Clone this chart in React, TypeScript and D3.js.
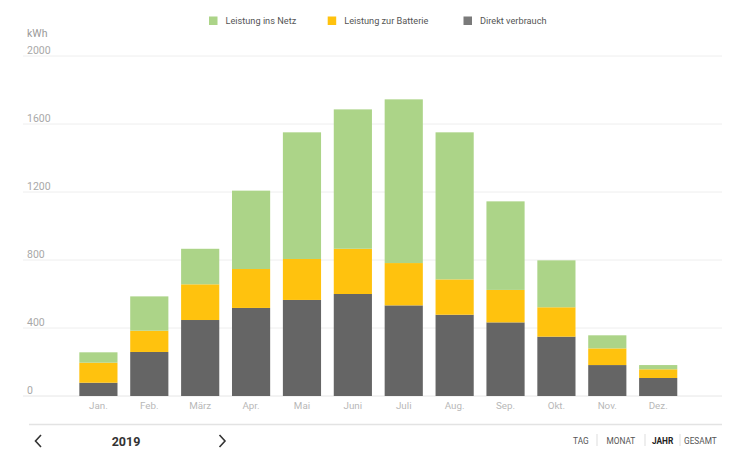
import React from "react";
import * as d3 from "d3";

const months = ["Jan.", "Feb.", "März", "Apr.", "Mai", "Juni", "Juli", "Aug.", "Sep.", "Okt.", "Nov.", "Dez."];
const direktVerbrauch = [78, 259, 447, 518, 565, 600, 533, 478, 433, 349, 182, 106];
const leistungBatterie = [118, 125, 210, 229, 241, 266, 249, 208, 191, 173, 98, 51];
const leistungNetz = [61, 202, 209, 461, 745, 820, 963, 865, 521, 276, 77, 25];
const yTicks = [0, 400, 800, 1200, 1600, 2000];
const seriesNames = ["Leistung ins Netz", "Leistung zur Batterie", "Direkt verbrauch"];
const periodTabs = ["TAG", "MONAT", "JAHR", "GESAMT"];
const yearLabel = "2019";

const COLORS: Record<string, string> = {
  direkt: "#656565",
  batterie: "#ffc20e",
  netz: "#acd488",
};

export default function App() {
  const W = 730, H = 450;
  const font = "Roboto, 'Noto Sans', sans-serif";

  const x = d3.scaleBand<string>().domain(months).range([66.6, 690]).paddingInner(0.25).paddingOuter(0.25);
  const y = d3.scaleLinear().domain([0, 2000]).range([396, 56]);

  const rows = months.map((m, i) => ({
    month: m,
    direkt: direktVerbrauch[i],
    batterie: leistungBatterie[i],
    netz: leistungNetz[i],
  }));
  const keys = ["direkt", "batterie", "netz"];
  const stacked = d3.stack<any>().keys(keys)(rows);

  const legendItems = [
    { name: seriesNames[0], color: COLORS.netz, x: 209 },
    { name: seriesNames[1], color: COLORS.batterie, x: 327.7 },
    { name: seriesNames[2], color: "#7a7a7a", x: 463.5 },
  ];

  const tabX = [573, 606.5, 652, 684];
  const sepX = [597, 645, 680];

  return (
    <svg width={W} height={H} style={{ position: "absolute", left: 0, top: 0, background: "#fff" }} fontFamily={font}>
      <rect width={W} height={H} fill="#fff" />
      {/* legend */}
      {legendItems.map((l) => (
        <g key={l.name}>
          <rect x={l.x} y={16.5} width={8.5} height={8.5} fill={l.color} />
          <text x={l.x + 16.5} y={24} fontSize={9.2} fill="#555">{l.name}</text>
        </g>
      ))}
      {/* unit */}
      <text x={27} y={37} fontSize={10.5} fill="#999">kWh</text>
      {/* grid */}
      {yTicks.map((t) => (
        <g key={t}>
          <line x1={23} x2={722} y1={y(t)} y2={y(t)} stroke={t === 0 ? "#e6e6e6" : "#eeeeee"} strokeWidth={1} />
          <text x={27} y={y(t) - 2.5} fontSize={10.5} fill="#a8a8a8">{t}</text>
        </g>
      ))}
      {/* bars */}
      {stacked.map((s) => (
        <g key={s.key} fill={COLORS[s.key]}>
          {s.map((d: any) => (
            <rect
              key={d.data.month}
              x={x(d.data.month)}
              width={x.bandwidth()}
              y={y(d[1])}
              height={y(d[0]) - y(d[1])}
            />
          ))}
        </g>
      ))}
      {/* x labels */}
      {months.map((m) => (
        <text key={m} x={(x(m) ?? 0) + x.bandwidth() / 2} y={409} fontSize={9.8} fill="#b8b8b8" textAnchor="middle">{m}</text>
      ))}
      {/* separator */}
      <line x1={29} x2={722} y1={424.5} y2={424.5} stroke="#e3e3e3" strokeWidth={1.5} />
      {/* nav */}
      <path d="M41,435 L35.5,441 L41,447" fill="none" stroke="#333" strokeWidth={1.6} />
      <text x={126} y={445.5} fontSize={12.5} fontWeight="bold" fill="#333" textAnchor="middle">{yearLabel}</text>
      <path d="M219.5,435 L225,441 L219.5,447" fill="none" stroke="#333" strokeWidth={1.6} />
      {periodTabs.map((t, i) => (
        <text key={t} x={tabX[i]} y={443.5} fontSize={8.3} fill={t === "JAHR" ? "#222" : "#555"} fontWeight={t === "JAHR" ? "bold" : "normal"}>{t}</text>
      ))}
      {sepX.map((sx) => (
        <line key={sx} x1={sx} x2={sx} y1={434} y2={446} stroke="#dddddd" strokeWidth={1} />
      ))}
    </svg>
  );
}
